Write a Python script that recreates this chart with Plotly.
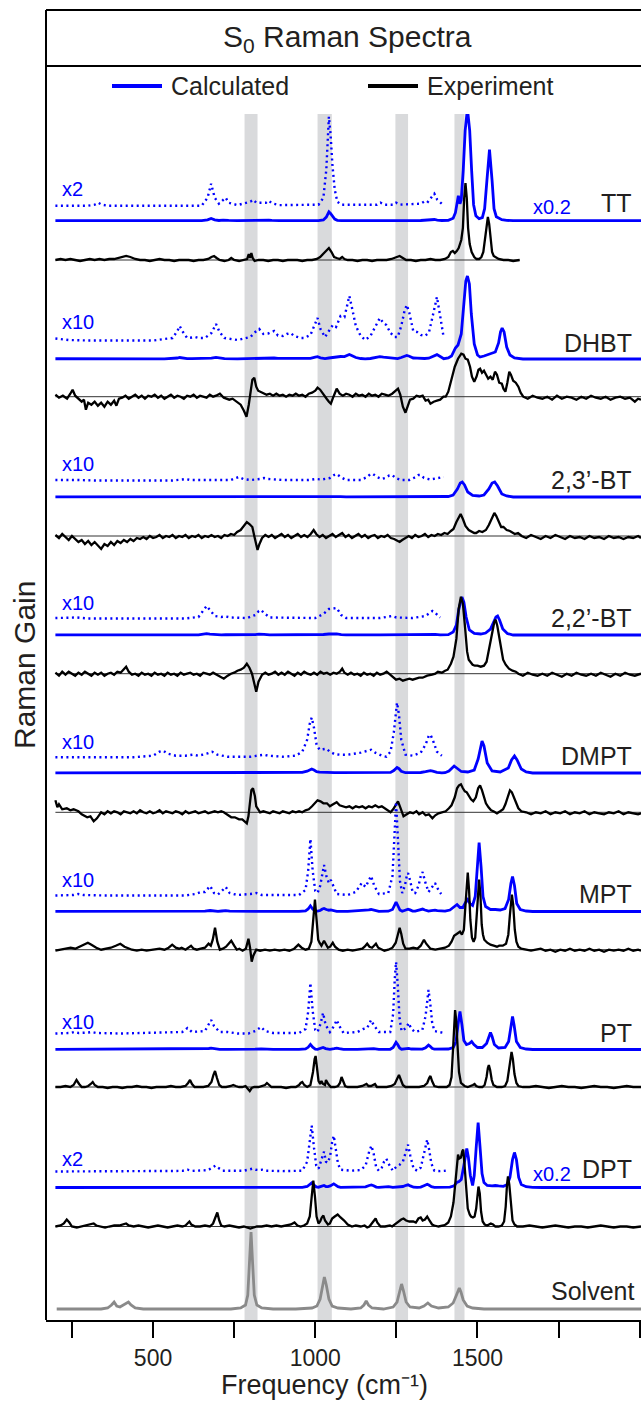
import plotly.graph_objects as go

# ---------------------------------------------------------------------------
# Spectra: (wavenumber in cm-1, intensity).  Calculated spectra are in raw
# calculated units (scaled by the gains written on the plot); experimental and
# solvent traces are Raman gain in plot units.
# ---------------------------------------------------------------------------

TT_CALC = [(199, 0), (300, 0), (320, 0.5), (331, 1.5), (342, 0.5), (360, 0), (650, 0), (668, 4), (679, 11), (690, 4),
           (703, 1), (716, 3), (724, 4), (733, 1.5), (760, 0.3), (800, 2), (809, 3), (818, 1.5), (848, 1.5), (857, 2.5),
           (866, 1.2), (890, 0.3), (1010, 0.5), (1025, 4), (1034, 18), (1042, 44.5), (1047, 36), (1053, 20), (1060, 8),
           (1068, 2), (1080, 0.5), (1190, 0.5), (1201, 1.5), (1212, 0.5), (1240, 0.5), (1249, 1.5), (1260, 0.5),
           (1325, 1), (1335, 2), (1345, 1.5), (1358, 4), (1367, 6), (1376, 3), (1390, 1), (1410, 2), (1425, 12),
           (1432, 40), (1437, 90), (1441, 125), (1446, 85), (1450, 105), (1456, 250), (1462, 450), (1469, 560),
           (1476, 450), (1482, 250), (1488, 80), (1495, 25), (1505, 10), (1515, 15), (1522, 60), (1529, 200),
           (1537, 355), (1545, 200), (1551, 60), (1558, 20), (1567, 10), (1575, 5), (1590, 2), (1610, 0), (2004, 0)]

DHBT_CALC = [(199, 0.25), (216, 0.2), (240, 0.1), (300, 0.05), (423, 0.07), (500, 0.05), (535, 0.2), (560, 0.3),
             (575, 1.0), (582, 1.5), (590, 1.0), (605, 0.3), (620, 0.35), (629, 0.4), (640, 0.3), (660, 0.3),
             (680, 0.8), (694, 1.7), (705, 0.9), (720, 0.3), (760, 0.1), (800, 0.4), (815, 0.9), (827, 1.2),
             (840, 0.7), (855, 0.75), (873, 1.0), (885, 0.55), (900, 0.5), (912, 0.7), (924, 0.8), (935, 0.5),
             (955, 0.3), (966, 0.3), (985, 0.6), (1000, 1.9), (1007, 2.3), (1016, 1.2), (1030, 0.4), (1042, 1.0),
             (1054, 1.6), (1064, 1.4), (1078, 2.5), (1090, 2.4), (1100, 4.0), (1105, 4.5), (1112, 3.5), (1125, 1.5),
             (1140, 0.5), (1154, 0.1), (1170, 0.5), (1185, 1.5), (1199, 2.3), (1210, 1.8), (1219, 1.6), (1232, 0.8),
             (1245, 0.4), (1254, 0.4), (1265, 1.5), (1275, 3.0), (1282, 3.6), (1290, 2.8), (1302, 1.0), (1314, 0.9),
             (1325, 0.6), (1337, 0.5), (1350, 0.8), (1362, 2.5), (1375, 4.4), (1385, 2.5), (1396, 0.3), (1410, 1),
             (1420, 3), (1432, 11), (1440, 14), (1450, 25), (1458, 55), (1464, 78), (1469, 83), (1475, 75),
             (1481, 45), (1490, 15), (1500, 4), (1508, 2), (1520, 3), (1535, 5), (1545, 6), (1555, 7), (1565, 16),
             (1571, 27), (1576, 31), (1582, 27), (1590, 12), (1600, 4), (1614, 1), (1640, 0), (2004, 0)]

BT23_CALC = [(199, 0.1), (222, 0.12), (250, 0.12), (270, 0.1), (320, 0.05), (560, 0.05), (590, 0.15), (600, 0.2),
             (615, 0.1), (700, 0.05), (740, 0.1), (755, 0.3), (765, 0.4), (778, 0.2), (800, 0.1), (830, 0.2),
             (842, 0.3), (855, 0.2), (900, 0.1), (980, 0.1), (1001, 0.2), (1020, 0.15), (1045, 0.3), (1058, 0.6),
             (1066, 0.7), (1078, 0.4), (1095, 0.1), (1140, 0.1), (1160, 0.4), (1170, 0.7), (1178, 0.7), (1190, 0.4),
             (1205, 0.2), (1215, 0.3), (1228, 0.55), (1237, 0.6), (1248, 0.3), (1265, 0.1), (1290, 0.1), (1310, 0.4),
             (1318, 0.6), (1325, 0.6), (1335, 0.3), (1355, 0.15), (1380, 0.3), (1396, 0.4), (1410, 0.5), (1425, 2),
             (1438, 8), (1447, 14), (1453, 15), (1460, 12), (1470, 5), (1485, 1.5), (1505, 1), (1520, 2), (1535, 8),
             (1545, 14), (1553, 15), (1562, 11), (1575, 3), (1590, 1), (1610, 0), (2004, 0)]

BT22_CALC = [(199, 0.1), (240, 0.15), (252, 0.2), (265, 0.15), (300, 0.05), (600, 0.05), (640, 0.2), (655, 0.9),
             (665, 1.3), (675, 0.9), (690, 0.3), (710, 0.2), (724, 0.25), (740, 0.15), (790, 0.1), (815, 0.4),
             (826, 0.8), (833, 0.9), (842, 0.6), (860, 0.15), (1000, 0.1), (1025, 0.5), (1042, 1.0), (1055, 1.05),
             (1066, 1.1), (1080, 0.4), (1095, 0.1), (1200, 0.1), (1225, 0.25), (1237, 0.3), (1250, 0.15), (1300, 0.1),
             (1340, 0.3), (1355, 0.7), (1361, 0.8), (1370, 0.6), (1385, 0.15), (1396, 0.1), (1410, 0.3), (1425, 3),
             (1435, 10), (1442, 25), (1449, 36), (1452, 38), (1458, 33), (1465, 18), (1475, 5), (1490, 1.5),
             (1510, 1), (1525, 2), (1540, 6), (1550, 14), (1557, 18), (1562, 19), (1568, 15), (1578, 6), (1592, 1.5),
             (1610, 0), (2004, 0)]

DMPT_CALC = [(199, 0.05), (300, 0.05), (400, 0.08), (417, 0.1), (440, 0.05), (500, 0.2), (520, 0.6), (531, 0.7),
             (545, 0.4), (570, 0.2), (600, 0.2), (623, 0.3), (640, 0.2), (665, 0.4), (682, 0.6), (698, 0.3),
             (730, 0.1), (800, 0.1), (830, 0.25), (842, 0.3), (855, 0.2), (900, 0.1), (940, 0.2), (960, 0.6),
             (975, 1.8), (983, 3.4), (989, 4.0), (996, 3.0), (1004, 1.3), (1013, 0.8), (1024, 0.85), (1034, 0.9),
             (1045, 0.6), (1060, 0.35), (1075, 0.3), (1100, 0.3), (1140, 0.5), (1160, 0.7), (1172, 0.8), (1185, 0.5),
             (1205, 0.2), (1219, 0.1), (1232, 0.6), (1242, 2.5), (1248, 4.6), (1252, 5.5), (1258, 4.3), (1265, 1.8),
             (1278, 0.3), (1300, 0.2), (1325, 0.5), (1340, 1.3), (1350, 2.2), (1355, 2.3), (1362, 1.8), (1375, 0.6),
             (1390, 0.2), (1400, 0.3), (1412, 2), (1420, 5), (1428, 7), (1436, 5), (1450, 1.5), (1470, 1), (1490, 3),
             (1502, 14), (1510, 28), (1514, 32), (1520, 27), (1530, 10), (1545, 2), (1570, 1), (1595, 5), (1605, 13),
             (1614, 17), (1622, 13), (1635, 4), (1650, 1), (1670, 0), (2004, 0)]

MPT_CALC = [(199, 0.05), (255, 0.1), (269, 0.2), (285, 0.1), (350, 0.05), (600, 0.05), (630, 0.2), (647, 0.4),
            (660, 0.4), (676, 1.0), (688, 0.3), (700, 0.15), (712, 0.5), (724, 0.9), (736, 0.3), (760, 0.1),
            (800, 0.2), (818, 0.3), (835, 0.1), (950, 0.1), (970, 0.6), (978, 2.5), (985, 5.7), (992, 2.5),
            (1000, 0.5), (1007, 0.3), (1015, 1.0), (1022, 2.5), (1027, 3.1), (1034, 2.0), (1042, 1.3), (1048, 1.6),
            (1055, 1.0), (1066, 0.2), (1100, 0.1), (1125, 0.4), (1135, 0.9), (1143, 1.3), (1155, 0.9), (1165, 1.6),
            (1172, 2.0), (1182, 1.0), (1196, 0.2), (1225, 0.3), (1238, 2.0), (1244, 6.0), (1249, 9.4), (1255, 5.5),
            (1261, 1.5), (1268, 0.3), (1276, 1.0), (1282, 2.0), (1286, 2.3), (1292, 1.6), (1300, 0.4), (1308, 0.3),
            (1318, 1.0), (1326, 2.1), (1331, 2.4), (1338, 1.5), (1349, 0.4), (1358, 0.8), (1365, 1.2), (1369, 1.3),
            (1376, 0.8), (1388, 0.2), (1400, 0.3), (1415, 1.5), (1428, 5), (1437, 7), (1446, 4), (1455, 4),
            (1463, 9), (1470, 12), (1477, 8), (1485, 6), (1493, 15), (1499, 45), (1505, 69), (1511, 45), (1517, 15),
            (1525, 5), (1540, 2), (1555, 2), (1570, 1.5), (1585, 3), (1596, 12), (1603, 28), (1608, 35), (1614, 26),
            (1621, 8), (1632, 2), (1650, 0.5), (1670, 0), (2004, 0)]

PT_CALC = [(199, 0.05), (245, 0.1), (258, 0.2), (270, 0.1), (300, 0.15), (311, 0.2), (325, 0.1), (400, 0.05),
           (590, 0.2), (606, 0.6), (620, 0.2), (660, 0.3), (672, 1.0), (679, 1.4), (688, 0.8), (705, 0.2),
           (730, 0.2), (760, 0.05), (794, 0.05), (815, 0.3), (833, 0.7), (845, 0.3), (870, 0.1), (950, 0.1),
           (970, 0.5), (978, 2.2), (985, 5.1), (992, 2.3), (1000, 0.4), (1007, 0.2), (1016, 1.0), (1024, 2.1),
           (1032, 0.9), (1045, 0.2), (1058, 0.8), (1066, 1.4), (1074, 0.8), (1087, 0.1), (1130, 0.2), (1148, 0.5),
           (1160, 0.6), (1172, 1.4), (1180, 0.9), (1196, 0.2), (1231, 0.2), (1240, 2.0), (1245, 5.5), (1249, 7.2),
           (1254, 5.0), (1260, 1.5), (1266, 0.3), (1280, 0.6), (1288, 1.1), (1296, 0.5), (1308, 0.2), (1330, 0.4),
           (1340, 1.8), (1345, 3.5), (1349, 4.4), (1354, 3.2), (1360, 1.2), (1367, 0.3), (1396, 0.1), (1410, 0.5),
           (1425, 2), (1434, 8), (1440, 25), (1446, 38), (1452, 25), (1458, 9), (1466, 5), (1475, 6), (1482, 8),
           (1489, 5), (1500, 2), (1515, 2), (1528, 6), (1535, 13), (1540, 17), (1545, 13), (1552, 5), (1565, 1.5),
           (1585, 2), (1596, 8), (1603, 24), (1608, 33), (1613, 24), (1620, 8), (1632, 2), (1650, 0.5), (1670, 0),
           (2004, 0)]

DPT_CALC = [(199, 0.1), (380, 0.2), (405, 0.5), (430, 0.2), (590, 0.4), (606, 1.0), (620, 0.4), (670, 0.8),
            (685, 2.4), (692, 3.0), (700, 2.0), (715, 0.5), (780, 0.5), (796, 1.3), (806, 1.5), (816, 1.0),
            (826, 0.8), (836, 1.0), (848, 0.5), (900, 0.3), (960, 0.5), (975, 5), (982, 14), (989, 23), (996, 12),
            (1003, 3), (1010, 1.5), (1018, 5), (1027, 10), (1033, 5), (1039, 4.5), (1046, 8), (1052, 15), (1057, 18),
            (1063, 12), (1070, 4), (1078, 1), (1110, 0.5), (1140, 0.8), (1155, 3), (1166, 10), (1173, 13),
            (1180, 9), (1188, 2), (1196, 0.5), (1205, 2), (1212, 5), (1219, 6.5), (1226, 4), (1239, 0.5),
            (1250, 2.5), (1260, 3.5), (1270, 5), (1280, 11), (1286, 13.5), (1293, 8), (1303, 1.5), (1314, 0.5),
            (1325, 2), (1335, 9), (1340, 13), (1345, 16), (1350, 12), (1358, 4), (1367, 0.5), (1385, 0.3),
            (1402, 0.5), (1415, 2), (1428, 8), (1436, 25), (1443, 30), (1450, 40), (1458, 110), (1463, 170),
            (1467, 195), (1472, 150), (1478, 60), (1485, 10), (1490, 60), (1496, 200), (1502, 325), (1508, 200),
            (1514, 70), (1520, 25), (1530, 10), (1545, 8), (1555, 10), (1565, 8), (1580, 6), (1592, 15), (1600, 50),
            (1608, 140), (1614, 175), (1620, 140), (1627, 50), (1635, 15), (1650, 4), (1670, 1), (1700, 0), (2004, 0)]

TT_EXP = [(199, 0), (215, 1), (230, 0), (245, 1), (260, 0), (275, -1), (290, 0), (305, 1), (320, 0), (335, 1),
          (350, 0), (365, 1), (380, 1), (395, 2), (410, 3), (417, 4), (430, 3), (445, 1), (460, 0), (475, 0),
          (490, -1), (505, 0), (520, 1), (535, 0), (550, 0), (565, -1), (580, 0), (595, 0), (610, 0), (625, -1),
          (640, 0), (655, 0), (670, 1), (680, 3), (688, 4), (696, 2), (705, 0), (720, -1), (733, 0), (741, 2),
          (750, 0), (765, -1), (780, 0), (790, 1), (795, 6), (799, 2), (803, 7), (807, 2), (813, -1), (825, 0),
          (840, 0), (855, -1), (870, 0), (885, 0), (900, -1), (915, 0), (930, 0), (945, 0), (960, -1), (975, 0),
          (990, 0), (1005, 1), (1015, 3), (1025, 6), (1035, 10), (1042, 12), (1050, 8), (1058, 3), (1066, 2),
          (1075, 1), (1083, 3), (1090, 1), (1100, 0), (1115, 0), (1130, -1), (1145, 0), (1160, 0), (1175, -1),
          (1190, 0), (1205, 0), (1220, 0), (1235, 1), (1250, 3), (1260, 4), (1270, 2), (1280, 0), (1295, 0),
          (1310, -1), (1325, 0), (1340, 0), (1355, 1), (1370, 0), (1385, 0), (1400, 1), (1410, 3), (1418, 8),
          (1424, 9), (1430, 7), (1436, 9), (1442, 12), (1450, 20), (1455, 32), (1459, 62), (1463, 77), (1467, 62),
          (1471, 32), (1476, 16), (1482, 8), (1490, 3), (1497, 1), (1505, 1), (1512, 3), (1518, 8), (1523, 20),
          (1528, 36), (1532, 43), (1536, 36), (1540, 20), (1545, 8), (1550, 4), (1556, 3), (1565, 1), (1580, 0),
          (1595, 0), (1610, -1), (1625, 0), (1630, 0)]

DHBT_EXP = [(199, 2), (210, -1), (222, 1), (235, -2), (245, 3), (252, 7), (260, 1), (270, -2), (280, -5), (287, -3),
            (293, -13), (300, -6), (310, -8), (320, -5), (330, -9), (340, -6), (350, -10), (360, -5), (370, -8),
            (380, -4), (387, -9), (395, -2), (405, -1), (415, 1), (425, -2), (435, 0), (445, 2), (455, -1), (465, 1),
            (475, -2), (485, 1), (495, 0), (505, 2), (515, -1), (525, 1), (535, -2), (545, 0), (555, 2), (565, -1),
            (575, 1), (585, 0), (595, -2), (605, 1), (615, 0), (625, 2), (635, -1), (645, 1), (655, 0), (665, -1),
            (675, 2), (685, 0), (694, 1), (706, 3), (718, -1), (735, -3), (745, -2), (759, -5), (770, -8), (780, -14),
            (788, -20), (795, -8), (800, 5), (806, 17), (812, 19), (818, 10), (824, 6), (830, 5), (840, 4), (850, 2),
            (860, 3), (870, 1), (880, 3), (890, 1), (900, 2), (910, 0), (920, 2), (930, 1), (940, 3), (950, 1),
            (960, 2), (970, 0), (980, 3), (990, 4), (1000, 6), (1007, 9), (1015, 7), (1025, 3), (1035, -2),
            (1042, -5), (1048, -7), (1056, 0), (1066, 8), (1075, 3), (1085, 1), (1095, 3), (1105, 2), (1115, 0),
            (1125, 3), (1135, 1), (1145, 2), (1155, 0), (1165, 3), (1175, 1), (1185, 2), (1195, 0), (1205, 3),
            (1215, 2), (1225, 1), (1237, 3), (1248, 6), (1255, 8), (1262, 2), (1270, -10), (1278, -16), (1285, -10),
            (1292, -3), (1302, -2), (1312, 1), (1322, 0), (1331, 1), (1340, -4), (1348, -3), (1355, -7), (1365, -5),
            (1375, -4), (1385, -3), (1395, 0), (1402, 0), (1410, 5), (1420, 18), (1430, 30), (1440, 38), (1450, 43),
            (1457, 42), (1463, 38), (1470, 37), (1477, 30), (1483, 20), (1490, 15), (1497, 20), (1503, 27),
            (1508, 28), (1514, 24), (1520, 26), (1526, 22), (1533, 18), (1540, 20), (1547, 17), (1554, 25),
            (1560, 22), (1567, 14), (1575, 13), (1580, 8), (1586, 5), (1592, 14), (1598, 25), (1603, 22), (1610, 16),
            (1618, 14), (1626, 10), (1633, 4), (1641, 0), (1655, -2), (1670, 1), (1685, -1), (1700, -2), (1715, 0),
            (1730, -3), (1745, 1), (1760, -2), (1775, 0), (1790, -1), (1805, -3), (1820, 0), (1835, -2), (1850, 1),
            (1865, -1), (1880, -2), (1895, 0), (1910, -3), (1925, -1), (1940, 0), (1955, -2), (1970, -1), (1985, -5),
            (1995, -2), (2004, -3)]

BT23_EXP = [(199, 1), (210, -2), (220, 2), (230, -1), (240, -4), (250, 0), (260, -3), (270, -6), (280, -4), (290, -8),
            (300, -5), (310, -9), (320, -6), (330, -10), (340, -13), (350, -8), (360, -10), (370, -6), (380, -9),
            (390, -5), (400, -7), (410, -4), (420, -6), (430, -3), (440, -5), (450, -2), (460, -3), (470, -1),
            (480, -3), (490, 0), (500, -2), (510, -1), (520, 1), (530, -2), (540, 0), (550, -1), (560, 1), (570, -2),
            (580, 0), (590, -1), (600, 1), (610, -2), (620, 0), (630, -1), (640, 1), (650, -2), (660, 0), (670, -1),
            (680, 1), (690, -1), (700, 0), (710, -2), (720, 1), (730, 0), (740, 2), (750, 1), (759, 4), (770, 6),
            (780, 10), (789, 14), (797, 12), (806, 9), (812, 0), (818, -10), (822, -14), (828, -8), (836, -2),
            (846, 1), (856, -1), (866, 1), (876, -2), (886, 0), (896, 2), (906, -1), (916, 1), (926, -2), (936, 0),
            (946, 2), (956, -1), (966, 1), (976, -1), (986, 2), (995, 6), (1003, 2), (1013, -1), (1023, 1),
            (1033, -2), (1043, 0), (1053, 2), (1063, -1), (1073, 1), (1083, 3), (1093, -1), (1103, 1), (1113, -2),
            (1123, 0), (1133, 2), (1143, -1), (1153, 1), (1163, -2), (1173, 0), (1183, 1), (1193, -2), (1203, 0),
            (1213, -1), (1223, 1), (1233, -2), (1243, -3), (1253, -5), (1260, -6), (1268, -4), (1278, -2), (1288, 0),
            (1298, -2), (1308, 1), (1318, -1), (1328, 0), (1338, 2), (1348, -1), (1358, 1), (1368, 0), (1378, 2),
            (1388, 1), (1398, 3), (1408, 2), (1418, 5), (1426, 7), (1435, 14), (1443, 20), (1448, 22), (1455, 17),
            (1463, 10), (1473, 6), (1483, 4), (1490, 3), (1496, 3), (1505, 5), (1515, 4), (1526, 6), (1535, 11),
            (1545, 18), (1552, 23), (1558, 20), (1565, 14), (1573, 9), (1580, 9), (1590, 6), (1600, 5), (1606, 4),
            (1615, 2), (1625, 3), (1636, 0), (1650, -2), (1665, 1), (1680, -1), (1695, -3), (1710, 0), (1725, -2),
            (1740, 1), (1755, -1), (1770, -3), (1785, 0), (1800, -2), (1815, -1), (1830, -3), (1845, 0), (1860, -2),
            (1875, -1), (1890, -3), (1905, 0), (1920, -2), (1935, -1), (1950, -3), (1965, -1), (1980, -2), (1995, 0),
            (2004, -2)]

BT22_EXP = [(199, 1), (210, -2), (220, 2), (230, -1), (240, 2), (250, 0), (260, -2), (270, 1), (280, -1), (290, 2),
            (300, 0), (310, -2), (320, 1), (330, -1), (340, 1), (350, -2), (360, 0), (370, 1), (380, -1), (390, 2),
            (400, 1), (410, 4), (417, 7), (425, 2), (435, -1), (445, 0), (455, -2), (465, 1), (475, -1), (485, 0),
            (495, -2), (505, 1), (515, -1), (525, 0), (535, -2), (545, 1), (555, -1), (565, 0), (575, -2), (585, 1),
            (595, -1), (605, 0), (615, 1), (625, -1), (635, 0), (645, -2), (655, 1), (665, 0), (675, -1), (685, 1),
            (695, -1), (705, -3), (718, -5), (730, -2), (740, 0), (750, 1), (760, 3), (770, 4), (780, 6), (789, 10),
            (797, 6), (805, 0), (812, -10), (818, -18), (825, -8), (836, -1), (846, 1), (856, -1), (866, 0), (876, 2),
            (886, -1), (896, 1), (906, -1), (916, 2), (926, 0), (936, -2), (946, 1), (956, -1), (966, 2), (976, 0),
            (986, -1), (996, 1), (1006, -1), (1016, 2), (1026, 0), (1036, 1), (1046, -1), (1056, 1), (1066, 0),
            (1076, 2), (1083, 5), (1090, 1), (1100, -1), (1110, 1), (1120, -1), (1130, 0), (1140, -2), (1150, 1),
            (1160, -1), (1170, 0), (1180, -2), (1190, 1), (1200, -1), (1210, 0), (1220, 2), (1230, -1), (1240, -3),
            (1249, -6), (1260, -5), (1270, -7), (1280, -6), (1290, -5), (1300, -6), (1310, -5), (1320, -4),
            (1331, -4), (1345, -2), (1360, -1), (1370, 0), (1378, 2), (1390, 1), (1400, 3), (1408, 4), (1418, 10),
            (1426, 17), (1435, 35), (1442, 65), (1449, 77), (1455, 70), (1462, 45), (1468, 22), (1473, 14),
            (1480, 11), (1485, 9), (1492, 8), (1500, 8), (1510, 7), (1520, 8), (1528, 12), (1538, 27), (1546, 42),
            (1552, 52), (1556, 54), (1561, 48), (1567, 35), (1573, 22), (1579, 14), (1587, 9), (1597, 5), (1608, 3),
            (1618, 2), (1626, 0), (1640, -2), (1655, 1), (1670, -1), (1685, -2), (1700, 0), (1715, -2), (1730, 1),
            (1745, -1), (1760, -3), (1775, 0), (1790, -2), (1805, 1), (1820, -1), (1835, -2), (1850, 0), (1865, -2),
            (1880, 1), (1895, -1), (1910, -3), (1925, 0), (1940, -2), (1955, 1), (1970, -1), (1985, -2), (2004, 0)]

DMPT_EXP = [(199, 12), (205, 5), (210, 8), (220, 3), (234, 4), (245, 2), (255, 3), (270, 1), (280, -2), (287, -3),
            (297, -5), (307, -4), (317, -9), (327, -6), (340, 0), (350, -2), (360, 1), (370, -1), (380, 1), (390, 0),
            (400, -2), (410, 1), (420, 0), (430, -1), (440, 1), (450, -1), (460, 2), (470, 0), (480, -1), (490, 1),
            (500, -1), (510, 0), (520, 2), (530, -1), (540, 1), (550, 0), (560, -1), (570, 1), (580, 0), (590, -2),
            (600, 1), (610, -1), (620, 0), (630, 1), (640, -1), (650, 0), (660, 1), (670, -1), (680, 0), (690, 1),
            (700, 0), (710, 1), (718, 0), (730, -3), (741, -5), (752, -5), (765, -7), (775, -7), (783, -9),
            (789, -11), (794, -4), (798, 9), (803, 22), (808, 24), (814, 16), (818, 6), (822, 4), (830, 0), (840, 1),
            (850, 0), (860, -1), (870, 1), (880, 0), (890, -1), (900, 1), (910, 0), (920, -1), (930, 1), (940, 0),
            (950, 1), (960, 0), (970, 2), (980, 3), (990, 6), (1000, 9), (1007, 12), (1016, 11), (1025, 9),
            (1036, 9), (1045, 6), (1055, 8), (1066, 10), (1075, 7), (1085, 6), (1095, 5), (1105, 6), (1115, 4),
            (1125, 6), (1135, 5), (1145, 6), (1155, 4), (1165, 6), (1175, 5), (1185, 7), (1195, 5), (1205, 6),
            (1213, 4), (1222, 2), (1232, 0), (1240, 3), (1248, 8), (1255, 11), (1262, 5), (1272, -4), (1282, -2),
            (1292, 0), (1302, -1), (1312, 1), (1320, -2), (1331, 0), (1340, -3), (1350, -2), (1361, -6), (1370, -3),
            (1380, -1), (1392, 0), (1402, 1), (1412, 4), (1420, 7), (1430, 15), (1437, 24), (1443, 27), (1449, 28),
            (1455, 24), (1461, 21), (1467, 20), (1475, 16), (1480, 13), (1487, 11), (1495, 15), (1502, 24),
            (1508, 27), (1514, 22), (1520, 14), (1526, 9), (1534, 5), (1542, 2), (1549, 1), (1560, -1), (1570, 1),
            (1579, 3), (1586, 8), (1594, 17), (1600, 22), (1606, 20), (1614, 14), (1620, 8), (1626, 4), (1635, 1),
            (1650, 0), (1665, -2), (1680, 0), (1695, -1), (1710, 1), (1725, -2), (1740, 0), (1755, -1), (1770, 1),
            (1785, -2), (1800, 0), (1815, -1), (1830, 1), (1845, -2), (1860, 0), (1875, -1), (1890, -2), (1905, 0),
            (1920, -1), (1935, 1), (1950, -2), (1965, 0), (1980, -1), (1995, -2), (2004, -1)]

MPT_EXP = [(199, -1), (215, 0), (230, 1), (246, 2), (260, 1), (275, 3), (288, 5), (299, 7), (310, 5), (325, 2),
           (340, 0), (355, 1), (370, 2), (385, 4), (399, 6), (412, 3), (425, 1), (435, 0), (450, -1), (465, 0),
           (480, -1), (495, 0), (505, 0), (520, 1), (535, 0), (548, 2), (559, 5), (570, 2), (580, 1), (588, 2),
           (600, 0), (610, 2), (617, 4), (625, 1), (635, 0), (647, 1), (660, 2), (671, 6), (678, 4), (684, 10),
           (691, 22), (698, 8), (706, 0), (715, 1), (725, 3), (733, 6), (741, 9), (750, 4), (758, 0), (766, 1),
           (776, -1), (786, 1), (791, 6), (794, 11), (799, 2), (804, -12), (809, -6), (818, 0), (830, -1), (845, 0),
           (860, -1), (875, 0), (890, -1), (905, 0), (920, -1), (935, 1), (948, 5), (958, 2), (970, 0), (980, 1),
           (988, 8), (994, 30), (999, 50), (1004, 30), (1009, 10), (1013, 7), (1019, 4), (1027, 9), (1033, 5),
           (1039, 2), (1046, 3), (1054, 7), (1061, 3), (1072, 0), (1085, -1), (1100, 0), (1115, -1), (1130, 0),
           (1145, 1), (1152, 3), (1160, 6), (1167, 3), (1175, 2), (1181, 4), (1187, 6), (1194, 2), (1205, 0),
           (1213, -1), (1225, 0), (1238, 2), (1248, 7), (1255, 16), (1260, 22), (1265, 16), (1271, 6), (1278, 1),
           (1290, 1), (1302, 2), (1315, 1), (1325, 4), (1335, 10), (1342, 6), (1355, 1), (1370, 0), (1385, 1),
           (1400, 2), (1412, 4), (1420, 8), (1428, 14), (1433, 15), (1440, 16), (1446, 18), (1452, 15), (1458, 20),
           (1463, 45), (1467, 70), (1470, 77), (1474, 60), (1478, 30), (1483, 12), (1488, 8), (1493, 12), (1498, 35),
           (1502, 60), (1505, 70), (1509, 55), (1513, 25), (1517, 15), (1521, 10), (1530, 7), (1540, 5), (1550, 4),
           (1560, 3), (1567, 4), (1578, 4), (1588, 6), (1595, 15), (1600, 35), (1603, 50), (1606, 55), (1610, 45),
           (1615, 20), (1620, 8), (1626, 3), (1635, 1), (1650, 0), (1665, -1), (1680, 0), (1695, 1), (1710, -1),
           (1725, 0), (1740, -2), (1755, 0), (1770, -1), (1785, 1), (1800, -1), (1815, 0), (1830, -1), (1845, 1),
           (1860, -1), (1875, 0), (1890, -2), (1905, 0), (1920, -1), (1935, 0), (1950, -1), (1965, 1), (1980, -1),
           (1995, 0), (2004, -1)]

PT_EXP = [(199, 0), (215, 0), (230, 1), (245, 0), (255, 2), (264, 7), (272, 3), (280, 0), (290, 0), (300, 1),
          (308, 3), (314, 5), (320, 2), (330, 0), (345, 0), (360, -1), (375, 0), (390, 0), (405, -1), (420, 0),
          (435, 0), (450, 1), (465, 0), (480, 0), (495, -1), (510, 0), (525, 0), (540, 0), (555, 1), (570, 0),
          (585, 0), (600, 1), (608, 4), (614, 7), (620, 3), (628, 0), (640, 0), (655, 0), (670, 1), (680, 5),
          (686, 12), (691, 16), (697, 9), (704, 2), (712, 0), (725, 0), (740, 1), (747, 2), (755, 1), (765, 0),
          (775, 0), (785, 1), (790, -1), (794, -3), (798, -4), (804, -1), (812, 0), (825, 0), (838, 1), (845, 2),
          (851, 4), (858, 2), (865, 0), (880, 0), (895, 0), (910, -1), (925, 0), (940, 0), (950, 2), (955, 4),
          (960, 5), (966, 2), (975, 0), (985, 2), (993, 15), (998, 28), (1001, 31), (1005, 20), (1010, 6),
          (1015, 3), (1019, 6), (1024, 3), (1030, 2), (1033, 7), (1040, 3), (1048, 0), (1060, 0), (1070, 1),
          (1076, 4), (1081, 10), (1086, 5), (1092, 1), (1100, 0), (1115, 0), (1130, 0), (1145, 1), (1152, 2),
          (1158, 3), (1164, 1), (1172, 1), (1178, 2), (1184, 3), (1190, 0), (1205, 0), (1220, 0), (1235, 1),
          (1245, 3), (1252, 8), (1258, 12), (1264, 7), (1270, 2), (1278, 0), (1290, 0), (1305, 0), (1320, 0),
          (1335, 1), (1345, 4), (1351, 9), (1355, 11), (1360, 6), (1367, 1), (1380, 0), (1395, 0), (1405, 0),
          (1414, 2), (1420, 10), (1425, 40), (1428, 65), (1431, 77), (1434, 68), (1438, 40), (1443, 15), (1449, 4),
          (1460, 1), (1470, 0), (1480, 1), (1486, 2), (1491, 3), (1496, 1), (1505, 0), (1515, 0), (1522, 2),
          (1528, 10), (1532, 19), (1535, 22), (1539, 17), (1544, 7), (1549, 2), (1560, 0), (1575, 0), (1585, 1),
          (1592, 6), (1597, 18), (1601, 30), (1605, 35), (1609, 28), (1614, 13), (1620, 4), (1626, 1), (1640, 0),
          (1660, 0), (1680, 1), (1700, 0), (1720, -1), (1740, 0), (1760, 1), (1780, 0), (1800, 0), (1820, -1),
          (1840, 0), (1860, 1), (1880, 0), (1900, 0), (1920, -1), (1940, 0), (1960, 1), (1980, 0), (2004, 0)]

DPT_EXP = [(199, 0), (215, 1), (225, 3), (234, 7), (242, 4), (250, 0), (265, -1), (280, 0), (295, 1), (310, 2),
           (317, 3), (325, 1), (340, 0), (352, -1), (365, 0), (380, 1), (395, 1), (405, 2), (417, 3), (425, 1),
           (440, 0), (455, 1), (470, 0), (485, -1), (500, 0), (515, 1), (530, 0), (545, -1), (560, 0), (575, 1),
           (590, 0), (600, 1), (606, 3), (612, 5), (618, 2), (630, 0), (645, 0), (660, 1), (675, 0), (685, 3),
           (692, 9), (698, 14), (704, 6), (710, 1), (720, 0), (735, 1), (750, 0), (765, -1), (780, 0), (790, -1),
           (800, -2), (810, -1), (820, 0), (835, 0), (850, 1), (865, 0), (880, 1), (895, 0), (910, 1), (925, 2),
           (936, 4), (945, 1), (955, 0), (965, 1), (975, 3), (983, 10), (989, 30), (994, 46), (999, 30), (1004, 10),
           (1010, 3), (1015, 5), (1020, 9), (1025, 11), (1030, 6), (1035, 3), (1039, 2), (1045, 3), (1052, 8),
           (1060, 10), (1069, 12), (1078, 9), (1089, 6), (1100, 2), (1113, 0), (1125, 1), (1140, 0), (1152, 1),
           (1160, -1), (1167, 0), (1175, 3), (1181, 6), (1186, 8), (1191, 4), (1201, 0), (1215, 0), (1230, 1),
           (1237, 0), (1248, 3), (1258, 6), (1265, 7), (1272, 8), (1280, 6), (1290, 5), (1302, 5), (1310, 4),
           (1318, 8), (1325, 9), (1331, 6), (1338, 7), (1345, 10), (1352, 6), (1360, 2), (1367, 1), (1380, 0),
           (1395, 1), (1402, 2), (1410, 4), (1418, 10), (1426, 24), (1432, 45), (1437, 65), (1440, 72), (1444, 68),
           (1449, 69), (1453, 75), (1456, 77), (1460, 62), (1465, 35), (1470, 18), (1476, 12), (1480, 10),
           (1486, 9), (1491, 10), (1496, 18), (1500, 33), (1503, 40), (1507, 33), (1511, 15), (1516, 5), (1522, 2),
           (1530, 1), (1541, 3), (1548, 2), (1555, 0), (1565, 0), (1575, 1), (1582, 5), (1587, 20), (1591, 42),
           (1594, 50), (1598, 42), (1603, 20), (1608, 6), (1614, 2), (1622, 0), (1640, 0), (1660, 1), (1680, 0),
           (1700, -1), (1720, 0), (1740, 1), (1760, 0), (1780, -1), (1800, 0), (1820, 0), (1840, -1), (1860, 0),
           (1880, 1), (1900, 0), (1920, -1), (1940, 0), (1960, 0), (1980, -1), (2004, 0)]

SOLVENT = [(203, 0), (250, 0), (300, 0), (340, 0), (360, 1), (372, 4), (380, 7), (388, 3), (398, 2), (410, 4),
           (418, 6), (424, 7), (432, 4), (445, 1), (470, 0), (520, 0), (600, 0), (680, 0), (740, 0), (770, 1),
           (785, 4), (792, 14), (797, 45), (802, 77), (807, 45), (812, 14), (820, 4), (835, 1), (870, 0), (940, 0),
           (990, 1), (1005, 3), (1015, 10), (1022, 24), (1028, 32), (1034, 24), (1042, 10), (1052, 3), (1070, 1),
           (1110, 0), (1140, 1), (1150, 4), (1157, 8), (1164, 4), (1175, 1), (1210, 0), (1240, 2), (1252, 7),
           (1260, 18), (1266, 25), (1272, 18), (1280, 7), (1292, 2), (1320, 1), (1335, 3), (1347, 6), (1358, 3),
           (1380, 1), (1410, 2), (1425, 6), (1434, 13), (1440, 19), (1444, 21), (1449, 17), (1456, 9), (1468, 3),
           (1485, 1), (1520, 0), (1600, 0), (1700, 0), (1800, 0), (1900, 0), (2004, 0)]

# solvent bands marked with grey stripes (cm-1 limits)
SOLVENT_BANDS = [(782, 822), (1007, 1051), (1247, 1286), (1429, 1460)]

LABELED_TICKS = [500, 1000, 1500]
UNLABELED_TICKS = [250, 750, 1250, 1750, 2000]

# ---------------------------------------------------------------------------
# Layout geometry (pixels)
# ---------------------------------------------------------------------------
W, H = 641, 1401
PL, PR, PT_, PB = 46, 641, 114, 1320
X_RANGE = [170, 2004]
FONT = "Liberation Sans, Arial, Helvetica, sans-serif"
TXT = "#231f20"
BLUE = "#0000ff"


def yd(px):
    """data y of a pixel row"""
    return PB - px


def py(px):
    """paper y of a pixel row"""
    return (PB - px) / (PB - PT_)


def pxp(px):
    """paper x of a pixel column"""
    return (px - PL) / (PR - PL)


# name, calc, exp, dotted gain, solid gain, dotted end (cm-1),
# baselines (dotted, solid, exp), label rows (name, dotted gain tag, solid gain tag)
PANELS = [
    ("TT", TT_CALC, TT_EXP, 2, 0.2, 1396, 205.7, 220.7, 260.0, 203, 189, 207),
    ("DHBT", DHBT_CALC, DHBT_EXP, 10, 1, 1396, 341.0, 359.0, 396.7, 343, 322, None),
    ("2,3\u2019-BT", BT23_CALC, BT23_EXP, 10, 1, 1396, 481.0, 497.0, 536.0, 480, 464, None),
    ("2,2\u2019-BT", BT22_CALC, BT22_EXP, 10, 1, 1390, 619.0, 635.0, 673.7, 618, 603, None),
    ("DMPT", DMPT_CALC, DMPT_EXP, 10, 1, 1396, 757.7, 773.0, 812.3, 756, 742, None),
    ("MPT", MPT_CALC, MPT_EXP, 10, 1, 1390, 896.0, 911.5, 949.7, 894, 880, None),
    ("PT", PT_CALC, PT_EXP, 10, 1, 1396, 1034.0, 1049.5, 1087.0, 1033, 1022, None),
    ("DPT", DPT_CALC, DPT_EXP, 2, 0.2, 1402, 1171.7, 1187.5, 1226.5, 1169, 1159, 1174),
]
SOLVENT_BASE, SOLVENT_LABEL_Y = 1309.0, 1291

fig = go.Figure()
annotations = []
shapes = []

for band in SOLVENT_BANDS:
    shapes.append(dict(type="rect", xref="x", yref="paper", x0=band[0], x1=band[1], y0=0, y1=1,
                       fillcolor="#d9dadc", line=dict(width=0), layer="below"))

for (name, calc, exp, g_dot, g_sol, dot_end, b_dot, b_sol, b_exp, lab_y, gdot_y, gsol_y) in PANELS:
    dot_pts = [(x, v) for x, v in calc if x <= dot_end]
    fig.add_trace(go.Scatter(
        x=[p[0] for p in dot_pts], y=[yd(b_dot) + g_dot * p[1] for p in dot_pts],
        mode="lines", line=dict(color=BLUE, width=2.4, dash="2px,3.5px"),
        showlegend=False, hoverinfo="skip"))
    fig.add_trace(go.Scatter(
        x=[p[0] for p in calc], y=[yd(b_sol) + g_sol * p[1] for p in calc],
        mode="lines", line=dict(color=BLUE, width=2.8), showlegend=False, hoverinfo="skip"))
    fig.add_trace(go.Scatter(
        x=[exp[0][0], exp[-1][0]], y=[yd(b_exp), yd(b_exp)],
        mode="lines", line=dict(color="#333333", width=1), showlegend=False, hoverinfo="skip"))
    fig.add_trace(go.Scatter(
        x=[p[0] for p in exp], y=[yd(b_exp) + p[1] for p in exp],
        mode="lines", line=dict(color="black", width=2.3), showlegend=False, hoverinfo="skip"))

    annotations.append(dict(text=name, xref="paper", yref="paper", x=pxp(634), y=py(lab_y),
                            xanchor="right", yanchor="middle", showarrow=False,
                            font=dict(family=FONT, size=25, color=TXT)))
    annotations.append(dict(text="x%g" % g_dot, xref="paper", yref="paper", x=pxp(60), y=py(gdot_y),
                            xanchor="left", yanchor="middle", showarrow=False,
                            font=dict(family=FONT, size=20, color=BLUE)))
    if gsol_y is not None:
        annotations.append(dict(text="x%g" % g_sol, xref="paper", yref="paper", x=pxp(531), y=py(gsol_y),
                                xanchor="left", yanchor="middle", showarrow=False,
                                font=dict(family=FONT, size=20, color=BLUE)))

fig.add_trace(go.Scatter(
    x=[p[0] for p in SOLVENT], y=[yd(SOLVENT_BASE) + p[1] for p in SOLVENT],
    mode="lines", line=dict(color="#8a8a8a", width=2.8), showlegend=False, hoverinfo="skip"))
annotations.append(dict(text="Solvent", xref="paper", yref="paper", x=pxp(636), y=py(SOLVENT_LABEL_Y),
                        xanchor="right", yanchor="middle", showarrow=False,
                        font=dict(family=FONT, size=25, color=TXT)))

# frame: left border, top border, title separator
shapes.append(dict(type="line", xref="paper", yref="paper", x0=0, x1=0, y0=0, y1=py(10),
                   line=dict(color="black", width=2)))
shapes.append(dict(type="line", xref="paper", yref="paper", x0=0, x1=1.01, y0=py(10), y1=py(10),
                   line=dict(color="black", width=2)))
shapes.append(dict(type="line", xref="paper", yref="paper", x0=0, x1=1.01, y0=py(66), y1=py(66),
                   line=dict(color="black", width=2)))

# title
annotations.append(dict(text="S<sub>0</sub> Raman Spectra", xref="paper", yref="paper", x=pxp(347), y=py(38),
                        xanchor="center", yanchor="middle", showarrow=False,
                        font=dict(family=FONT, size=30, color=TXT)))

# legend
for (x0, x1, tx, color, label) in [(112, 162, 171, BLUE, "Calculated"), (368, 418, 427, "black", "Experiment")]:
    shapes.append(dict(type="line", xref="paper", yref="paper", x0=pxp(x0), x1=pxp(x1), y0=py(86), y1=py(86),
                       line=dict(color=color, width=4)))
    annotations.append(dict(text=label, xref="paper", yref="paper", x=pxp(tx - 2), y=py(86),
                            xanchor="left", yanchor="middle", showarrow=False,
                            font=dict(family=FONT, size=25, color=TXT)))

# axis titles
annotations.append(dict(text="Raman Gain", xref="paper", yref="paper", x=pxp(24), y=py(665),
                        xanchor="center", yanchor="middle", textangle=-90, showarrow=False,
                        font=dict(family=FONT, size=30, color=TXT)))
annotations.append(dict(text="Frequency (cm\u207b\u00b9)", xref="paper", yref="paper", x=pxp(324),
                        y=py(1401), xanchor="center", yanchor="bottom", showarrow=False, borderpad=0,
                        font=dict(family=FONT, size=27, color=TXT)))

fig.update_layout(
    width=W, height=H,
    margin=dict(l=PL, r=W - PR, t=PT_, b=H - PB, pad=0),
    paper_bgcolor="white", plot_bgcolor="white",
    showlegend=False,
    xaxis=dict(range=X_RANGE, showgrid=False, zeroline=False, showline=True, linecolor="black", linewidth=2,
               ticks="outside", ticklen=16, tickwidth=2, tickcolor="black",
               tickmode="array", tickvals=LABELED_TICKS, ticklabelstandoff=0,
               minor=dict(tickmode="array", tickvals=UNLABELED_TICKS, ticks="outside", ticklen=16,
                          tickwidth=2, tickcolor="black", showgrid=False),
               tickfont=dict(family=FONT, size=23, color=TXT)),
    yaxis=dict(range=[0, PB - PT_], visible=False, fixedrange=True),
    shapes=shapes,
    annotations=annotations,
)

fig.write_html("out.html")
